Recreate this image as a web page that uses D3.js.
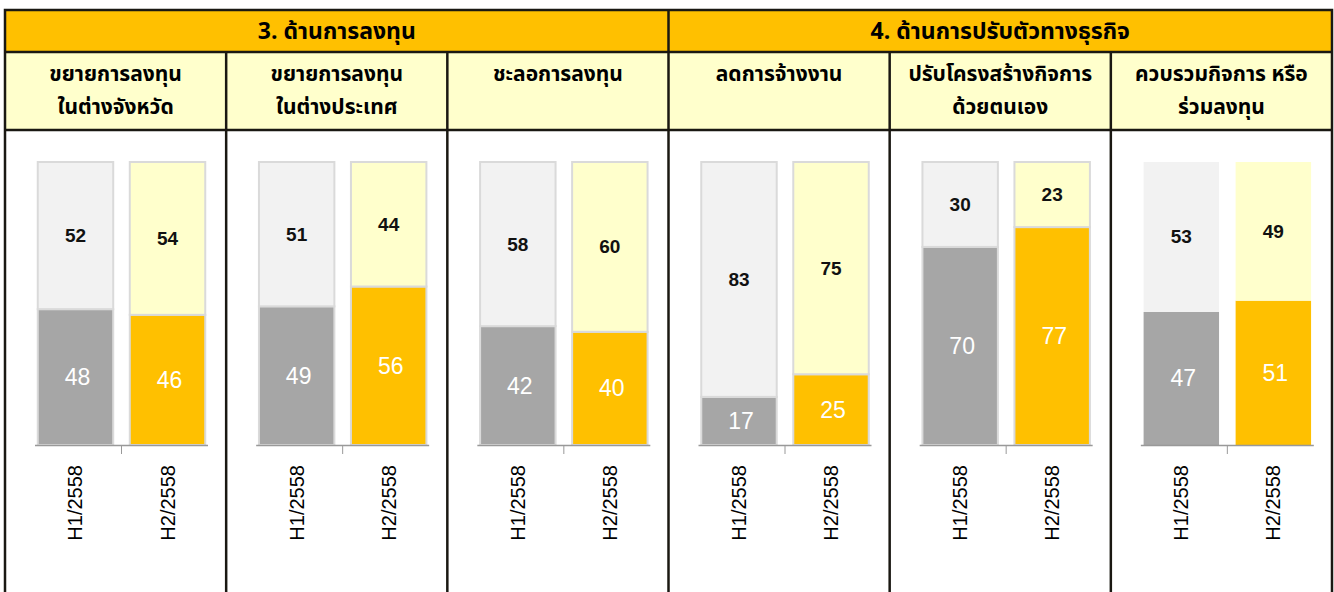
<!DOCTYPE html>
<html>
<head>
<meta charset="utf-8">
<script src="https://cdn.jsdelivr.net/npm/d3@7"></script>
<style>
    body { margin: 0; background: #fff; }
    svg { display: block; }
    .thai { font-family: Tahoma, 'Noto Sans Thai', 'Noto Sans Thai UI', Loma, Garuda, 'Noto Sans', sans-serif; font-weight: bold; fill: #000; }
    .num { font-family: Arial, 'Liberation Sans', sans-serif; }
</style>
</head>
<body>
<div id="chart"></div>
<script>
// periods on the x axis of every small chart
const categories = ['H1/2558', 'H2/2558'];

// top header groups, each spans 3 columns
const groupTitles = ['3. ด้านการลงทุน', '4. ด้านการปรับตัวทางธุรกิจ'];

// column headers (one or two lines)
const panelTitles = [
    ['ขยายการลงทุน', 'ในต่างจังหวัด'],
    ['ขยายการลงทุน', 'ในต่างประเทศ'],
    ['ชะลอการลงทุน'],
    ['ลดการจ้างงาน'],
    ['ปรับโครงสร้างกิจการ', 'ด้วยตนเอง'],
    ['ควบรวมกิจการ หรือ', 'ร่วมลงทุน'],
];

// lower segment (percent) per panel
const lowerH1 = [48, 49, 42, 17, 70, 47];
const lowerH2 = [46, 56, 40, 25, 77, 51];
// upper segment (percent) per panel
const upperH1 = [52, 51, 58, 83, 30, 53];
const upperH2 = [54, 44, 60, 75, 23, 49];

const width = 1334, height = 592;
const table = { left: 5, right: 1332, top: 10, row1: 52, row2: 130, bottom: 600 };
const colW = (table.right - table.left) / panelTitles.length;

const colors = {
    lower: ['#A6A6A6', '#FFC000'],
    upper: ['#F2F2F2', '#FFFFCC'],
};

const svg = d3.select('#chart').append('svg')
    .attr('width', width)
    .attr('height', height);

// header backgrounds
svg.append('rect')
    .attr('x', table.left).attr('y', table.top)
    .attr('width', table.right - table.left).attr('height', table.row1 - table.top)
    .attr('fill', '#FFC000');
svg.append('rect')
    .attr('x', table.left).attr('y', table.row1)
    .attr('width', table.right - table.left).attr('height', table.row2 - table.row1)
    .attr('fill', '#FFFFCC');

// group titles
groupTitles.forEach((t, i) => {
    const x0 = table.left + i * 3 * colW;
    svg.append('text')
        .attr('class', 'thai')
        .attr('x', x0 + 1.5 * colW)
        .attr('y', 39)
        .attr('text-anchor', 'middle')
        .style('font-size', '23px')
        .text(t);
});

const y = d3.scaleLinear().domain([0, 100]).range([445, 162]);

panelTitles.forEach((lines, p) => {
    const cx = table.left + p * colW;

    // column header
    lines.forEach((line, li) => {
        svg.append('text')
            .attr('class', 'thai')
            .attr('x', cx + colW / 2)
            .attr('y', 81 + li * 33)
            .attr('text-anchor', 'middle')
            .style('font-size', '21px')
            .text(line);
    });

    const x = d3.scaleBand()
        .domain(categories)
        .range([cx + 30, cx + 203])
        .paddingInner(0.18)
        .paddingOuter(0.03);

    const rows = categories.map((c, i) => ({
        cat: c,
        idx: i,
        lower: i === 0 ? lowerH1[p] : lowerH2[p],
        upper: i === 0 ? upperH1[p] : upperH2[p],
    }));

    const stack = d3.stack().keys(['lower', 'upper'])(rows);
    const stroke = p === panelTitles.length - 1 ? 'none' : '#DADADA';

    stack.forEach(layer => {
        const g = svg.append('g');
        g.selectAll('rect')
            .data(layer)
            .join('rect')
            .attr('x', d => x(d.data.cat))
            .attr('y', d => y(d[1]))
            .attr('width', x.bandwidth())
            .attr('height', d => y(d[0]) - y(d[1]))
            .attr('fill', d => colors[layer.key][d.data.idx])
            .attr('stroke', stroke)
            .attr('stroke-width', 2);

        g.selectAll('text')
            .data(layer)
            .join('text')
            .attr('class', 'num')
            .attr('x', d => x(d.data.cat) + x.bandwidth() / 2 + (layer.key === 'lower' ? 2 : 0))
            .attr('y', d => (y(d[0]) + y(d[1])) / 2)
            .attr('text-anchor', 'middle')
            .attr('dominant-baseline', 'central')
            .style('font-size', layer.key === 'lower' ? '23px' : '19px')
            .style('font-weight', layer.key === 'lower' ? 'normal' : 'bold')
            .style('fill', layer.key === 'lower' ? '#fff' : '#111')
            .text(d => d.data[layer.key]);
    });

    // category axis: baseline plus one tick between the bars
    const [r0, r1] = x.range();
    svg.append('line')
        .attr('x1', r0).attr('x2', r1)
        .attr('y1', y(0) + 0.5).attr('y2', y(0) + 0.5)
        .attr('stroke', '#999').attr('stroke-width', 1.5);
    svg.append('line')
        .attr('x1', (r0 + r1) / 2).attr('x2', (r0 + r1) / 2)
        .attr('y1', y(0)).attr('y2', y(0) + 9)
        .attr('stroke', '#999').attr('stroke-width', 1);

    svg.selectAll(null)
        .data(categories)
        .join('text')
        .attr('class', 'num')
        .attr('transform', d => `translate(${x(d) + x.bandwidth() / 2},465) rotate(-90)`)
        .attr('text-anchor', 'end')
        .attr('dominant-baseline', 'central')
        .style('font-size', '20px')
        .style('fill', '#000')
        .text(d => d);
});

// grid lines
const lineColor = '#1a1812';
svg.append('rect')
    .attr('x', table.left).attr('y', table.top)
    .attr('width', table.right - table.left).attr('height', table.bottom - table.top)
    .attr('fill', 'none')
    .attr('stroke', lineColor).attr('stroke-width', 2.5);
[table.row1, table.row2].forEach(yy => {
    svg.append('line')
        .attr('x1', table.left).attr('x2', table.right)
        .attr('y1', yy).attr('y2', yy)
        .attr('stroke', lineColor).attr('stroke-width', 2.5);
});
d3.range(1, panelTitles.length).forEach(i => {
    const xx = table.left + i * colW;
    svg.append('line')
        .attr('x1', xx).attr('x2', xx)
        .attr('y1', i % 3 === 0 ? table.top : table.row1).attr('y2', table.bottom)
        .attr('stroke', lineColor).attr('stroke-width', 2.5);
});
</script>
</body>
</html>
